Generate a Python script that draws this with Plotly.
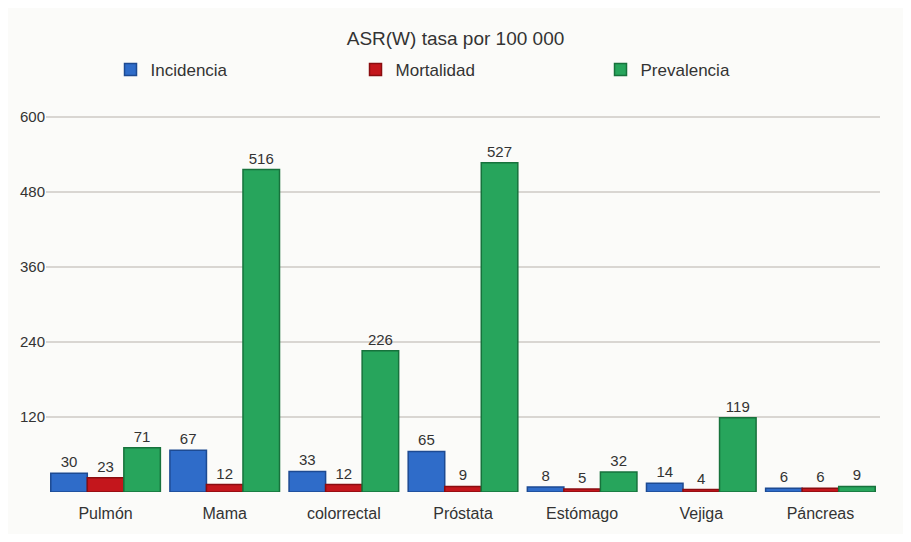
import plotly.graph_objects as go

categorias = ["Pulmón", "Mama", "colorrectal", "Próstata", "Estómago", "Vejiga", "Páncreas"]
incidencia = [30, 67, 33, 65, 8, 14, 6]
mortalidad = [23, 12, 12, 9, 5, 4, 6]
prevalencia = [71, 516, 226, 527, 32, 119, 9]
ticks_y = [120, 240, 360, 480, 600]

series = [
    ("Incidencia", incidencia, "#2f6cc9", "#1d4a92"),
    ("Mortalidad", mortalidad, "#c4161c", "#8a0d10"),
    ("Prevalencia", prevalencia, "#27a55c", "#17723c"),
]

W, H = 895, 526

fig = go.Figure()
for name, vals, color, edge in series:
    fig.add_trace(go.Bar(
        x=categorias,
        y=vals,
        name=name,
        text=[str(v) for v in vals],
        textposition="outside",
        cliponaxis=False,
        textfont=dict(size=15, color="#333333"),
        marker=dict(color=color, line=dict(color=edge, width=1.5)),
    ))

fig.update_layout(
    title=dict(text="ASR(W) tasa por 100 000", x=0.5, xanchor="center",
               yref="container", y=1 - 30 / H, yanchor="middle",
               font=dict(size=19, color="#333333")),
    font=dict(family="Liberation Sans, Arial, sans-serif", color="#333333", size=15),
    barmode="group",
    bargap=0.08,
    bargroupgap=0.0,
    paper_bgcolor="#fbfbf9",
    plot_bgcolor="#fbfbf9",
    width=W,
    height=H,
    margin=dict(l=22, r=23, t=106, b=32),
    showlegend=True,
    legend=dict(orientation="h", x=0.518, xanchor="center",
                yref="container", y=1 - 62 / H, yanchor="middle",
                entrywidth=200, font=dict(size=17, color="#333333"),
                bgcolor="rgba(0,0,0,0)"),
    xaxis=dict(showgrid=False, showline=False, ticks="", ticklabelstandoff=10,
               tickfont=dict(size=16, color="#333333")),
    yaxis=dict(range=[0, 605], tickvals=ticks_y, showgrid=True, gridcolor="#d9d6d2",
               gridwidth=1.5, zeroline=False, showline=False, ticks="",
               tickfont=dict(size=15, color="#333333")),
)

fig.write_html("out.html")
